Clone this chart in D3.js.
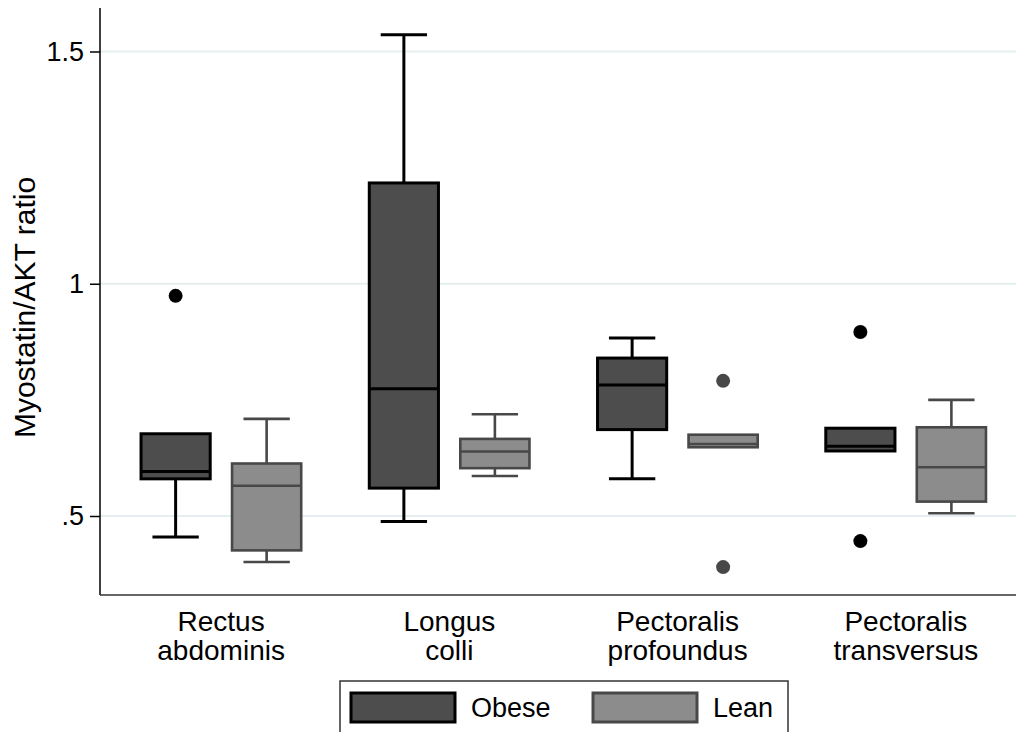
<!DOCTYPE html>
<html>
<head>
<meta charset="utf-8">
<script src="https://cdn.jsdelivr.net/npm/d3@7"></script>
<style>
  html, body { margin: 0; padding: 0; background: #fff; }
  svg { display: block; font-family: Arial, "Liberation Sans", Helvetica, sans-serif; }
</style>
</head>
<body>
<svg id="chart" width="1016" height="732"></svg>
<script>
// ---- data ----
const categories = ["Rectus abdominis", "Longus colli", "Pectoralis profoundus", "Pectoralis transversus"];
const categoryLines = [["Rectus", "abdominis"], ["Longus", "colli"], ["Pectoralis", "profoundus"], ["Pectoralis", "transversus"]];
const groups = ["Obese", "Lean"];
const yTicks = [0.5, 1, 1.5];
const yTickLabels = [".5", "1", "1.5"];
const yTitle = "Myostatin/AKT ratio";

// [lowWhisker, q1, median, q3, highWhisker]
const obeseStats = [
  [0.455, 0.580, 0.596, 0.677, 0.677],
  [0.488, 0.560, 0.774, 1.217, 1.536],
  [0.580, 0.686, 0.782, 0.840, 0.883],
  [0.640, 0.640, 0.650, 0.689, 0.689]
];
const obeseOutliers = [[0.974], [], [], [0.896, 0.446]];

const leanStats = [
  [0.401, 0.426, 0.565, 0.613, 0.709],
  [0.586, 0.603, 0.639, 0.666, 0.719],
  [0.648, 0.648, 0.655, 0.675, 0.675],
  [0.506, 0.531, 0.605, 0.691, 0.750]
];
const leanOutliers = [[], [], [0.791, 0.390], []];

// ---- styles ----
const style = {
  Obese: { fill: "#4d4d4d", stroke: "#000000", dot: "#000000" },
  Lean:  { fill: "#8c8c8c", stroke: "#484848", dot: "#484848" }
};

const svg = d3.select("#chart");
const plot = { left: 100, right: 1016, top: 8, bottom: 595 };

const y = d3.scaleLinear().domain([0.5, 1.5]).range([516, 51.5]);
const x = d3.scaleBand().domain(categories).range([107, 1020]).paddingInner(0).paddingOuter(0);
const xg = d3.scaleBand().domain(groups).range([0, x.bandwidth()]).paddingInner(0.24).paddingOuter(0.374);

// gridlines
svg.append("g").selectAll("line").data(yTicks).join("line")
  .attr("x1", plot.left).attr("x2", plot.right)
  .attr("y1", d => y(d)).attr("y2", d => y(d))
  .attr("stroke", "#e6efef").attr("stroke-width", 2);

// y axis
const yAxis = d3.axisLeft(y).tickValues(yTicks).tickFormat((d, i) => yTickLabels[i]).tickSize(10).tickPadding(6);
const yg = svg.append("g").attr("transform", `translate(${plot.left},0)`).call(yAxis);
yg.select(".domain").remove();
yg.selectAll(".tick line").attr("stroke", "#000").attr("stroke-width", 1.5);
yg.selectAll(".tick text").attr("font-size", 27).attr("fill", "#000").attr("font-family", "Arial, 'Liberation Sans', sans-serif");
svg.append("line").attr("x1", plot.left).attr("x2", plot.left).attr("y1", plot.top).attr("y2", plot.bottom)
  .attr("stroke", "#000").attr("stroke-width", 1.5);
// x axis line
svg.append("line").attr("x1", plot.left).attr("x2", plot.right).attr("y1", plot.bottom).attr("y2", plot.bottom)
  .attr("stroke", "#333").attr("stroke-width", 1.5);

// y title
svg.append("text")
  .attr("transform", `translate(35,${(plot.top + plot.bottom) / 2 + 6}) rotate(-90)`)
  .attr("text-anchor", "middle").attr("font-size", 30).attr("fill", "#000")
  .text(yTitle);

// category labels (one text per line)
const catG = svg.append("g");
categories.forEach((c, i) => {
  categoryLines[i].forEach((ln, j) => {
    catG.append("text")
      .attr("x", x(c) + x.bandwidth() / 2).attr("y", 631 + j * 29)
      .attr("text-anchor", "middle").attr("font-size", 28).attr("fill", "#000")
      .text(ln);
  });
});

// boxes
function drawGroup(name, stats, outliers) {
  const st = style[name];
  const bw = xg.bandwidth();
  const capW = bw * 0.67;
  const g = svg.append("g");
  stats.forEach((s, i) => {
    const cx = x(categories[i]) + xg(name) + bw / 2;
    const [lo, q1, med, q3, hi] = s;
    const sw = name === "Obese" ? 3 : 2.6;
    if (hi > q3) {
      g.append("line").attr("x1", cx).attr("x2", cx).attr("y1", y(q3)).attr("y2", y(hi)).attr("stroke", st.stroke).attr("stroke-width", sw);
      g.append("line").attr("x1", cx - capW / 2).attr("x2", cx + capW / 2).attr("y1", y(hi)).attr("y2", y(hi)).attr("stroke", st.stroke).attr("stroke-width", sw);
    }
    if (lo < q1) {
      g.append("line").attr("x1", cx).attr("x2", cx).attr("y1", y(q1)).attr("y2", y(lo)).attr("stroke", st.stroke).attr("stroke-width", sw);
      g.append("line").attr("x1", cx - capW / 2).attr("x2", cx + capW / 2).attr("y1", y(lo)).attr("y2", y(lo)).attr("stroke", st.stroke).attr("stroke-width", sw);
    }
    g.append("rect").attr("x", cx - bw / 2).attr("width", bw)
      .attr("y", y(q3)).attr("height", y(q1) - y(q3))
      .attr("fill", st.fill).attr("stroke", st.stroke).attr("stroke-width", sw);
    g.append("line").attr("x1", cx - bw / 2).attr("x2", cx + bw / 2).attr("y1", y(med)).attr("y2", y(med))
      .attr("stroke", st.stroke).attr("stroke-width", sw);
    outliers[i].forEach(o => {
      g.append("circle").attr("cx", cx).attr("cy", y(o)).attr("r", 7).attr("fill", st.dot);
    });
  });
}
drawGroup("Obese", obeseStats, obeseOutliers);
drawGroup("Lean", leanStats, leanOutliers);

// legend
const lg = svg.append("g");
lg.append("rect").attr("x", 340).attr("y", 681).attr("width", 448).attr("height", 70)
  .attr("fill", "#fff").attr("stroke", "#333").attr("stroke-width", 1.5);
const legX = [351, 593];
groups.forEach((gname, i) => {
  const st = style[gname];
  lg.append("rect").attr("x", legX[i]).attr("y", 693).attr("width", 104).attr("height", 29)
    .attr("fill", st.fill).attr("stroke", st.stroke).attr("stroke-width", 3);
  lg.append("text").attr("x", legX[i] + 120).attr("y", 717).attr("font-size", 27).attr("fill", "#000").text(gname);
});
</script>
</body>
</html>
